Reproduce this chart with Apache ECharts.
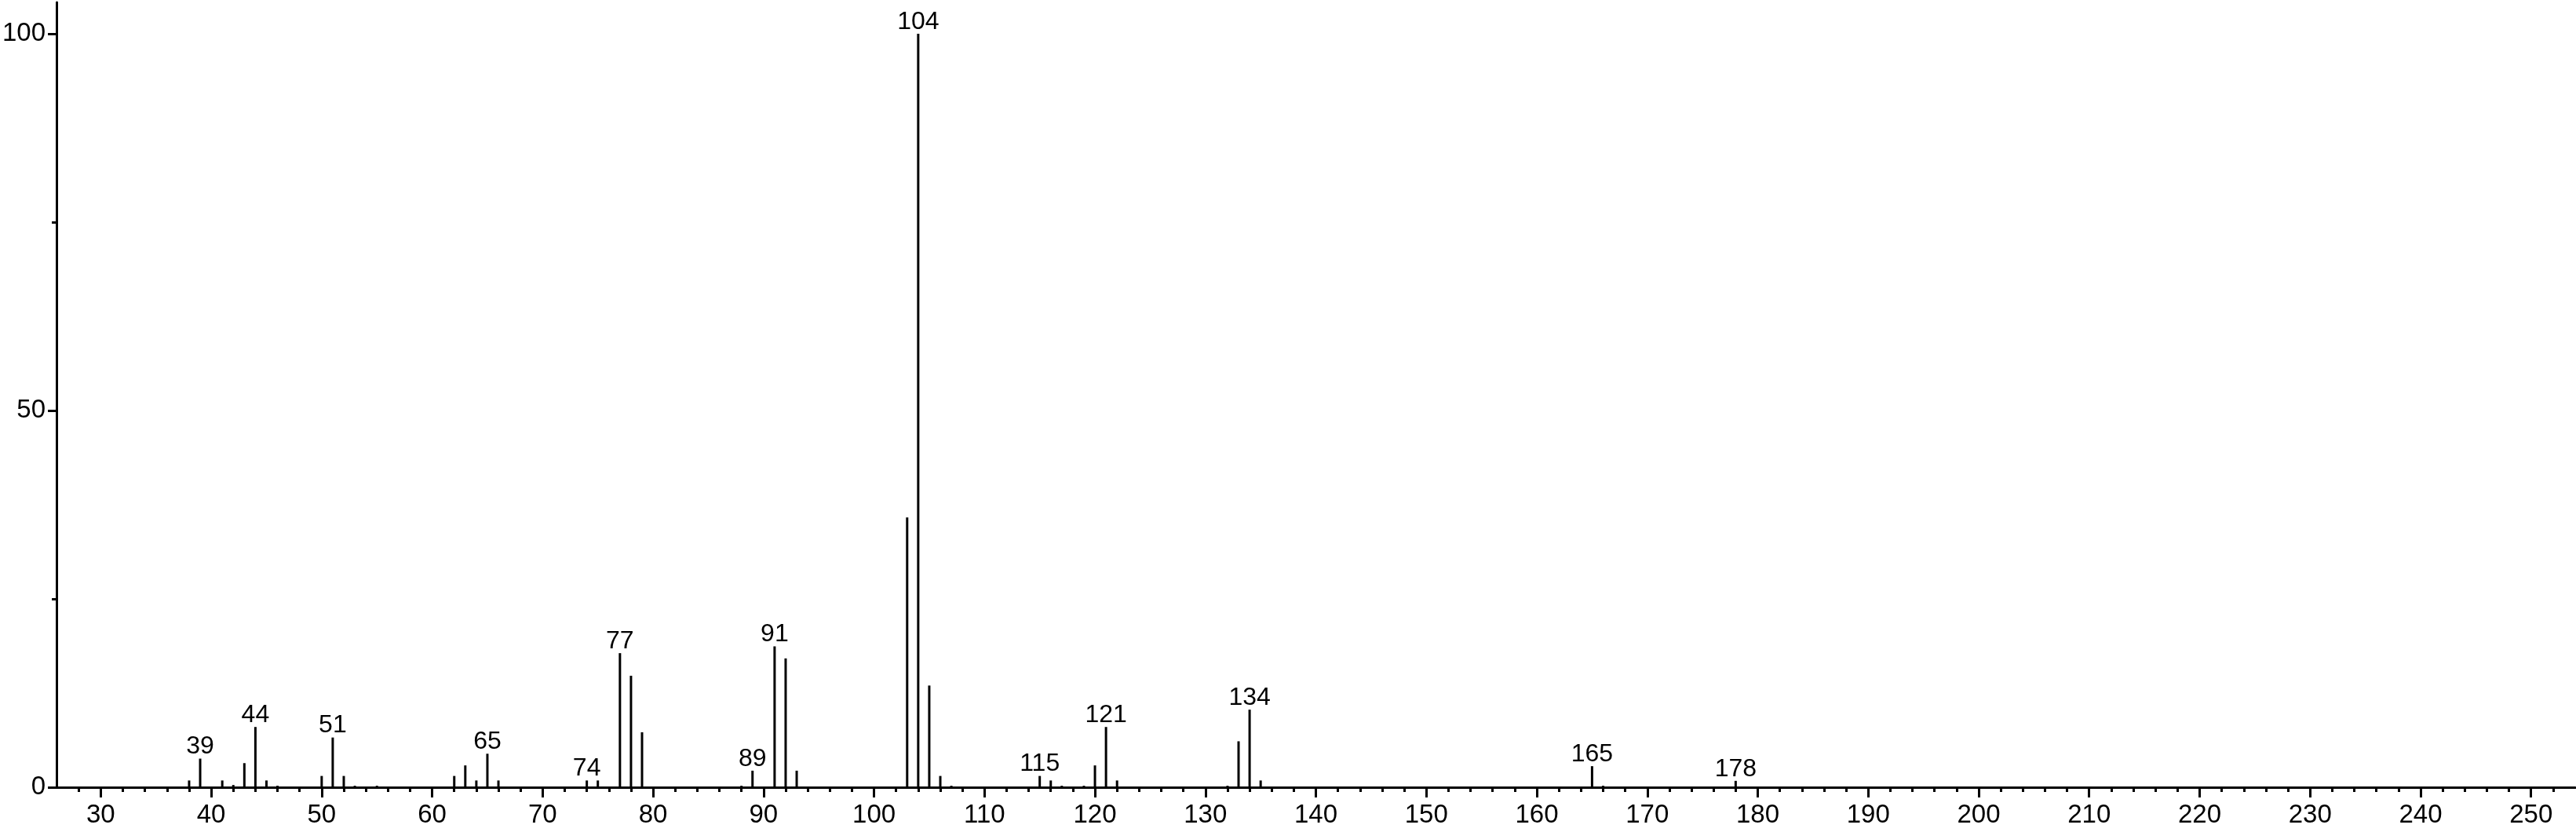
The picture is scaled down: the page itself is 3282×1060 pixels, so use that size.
<!DOCTYPE html>
<html>
<head>
<meta charset="utf-8">
<script src="https://cdn.jsdelivr.net/npm/echarts@6/dist/echarts.min.js"></script>
<style>
html,body{margin:0;padding:0;background:#fff;}
#chart{width:3282px;height:1060px;}
</style>
</head>
<body>
<div id="chart"></div>
<script>
// m/z values of the peaks
var mzValues = [38, 39, 41, 42, 43, 44, 45, 46, 50, 51, 52, 53, 55,
  62, 63, 64, 65, 66, 74, 75, 77, 78, 79, 88, 89, 91, 92, 93,
  103, 104, 105, 106, 107, 115, 116, 117, 119, 120, 121, 122,
  132, 133, 134, 135, 165, 166, 178];
// relative intensities (%)
var intensities = [0.9, 3.8, 0.9, 0.3, 3.2, 8.0, 0.9, 0.2, 1.5, 6.6, 1.5, 0.2, 0.2,
  1.5, 2.9, 0.9, 4.45, 0.9, 0.9, 0.9, 17.8, 14.8, 7.3, 0.2, 2.2, 18.7, 17.1, 2.2,
  35.8, 100, 13.5, 1.5, 0.2, 1.5, 0.9, 0.2, 0.2, 2.9, 8.0, 0.9,
  0.2, 6.1, 10.3, 0.9, 2.8, 0.2, 0.85];
// peaks that carry a label
var labeledPeaks = [39, 44, 51, 65, 74, 77, 89, 91, 104, 115, 121, 134, 165, 178];
// axis ticks
var xMajorTicks = [30, 40, 50, 60, 70, 80, 90, 100, 110, 120, 130, 140, 150, 160,
  170, 180, 190, 200, 210, 220, 230, 240, 250];
var yMajorTicks = [0, 50, 100];
var yMinorTicks = [25, 75];

var xMinorTicks = [];
for (var t = 28; t <= 252; t += 2) { if (t % 10 !== 0) xMinorTicks.push(t); }

var FONT = 'Liberation Sans, Arial, sans-serif';
var seriesData = mzValues.map(function (mz, i) {
  var item = { value: [mz, intensities[i]] };
  if (labeledPeaks.indexOf(mz) >= 0) {
    item.label = { show: true };
  }
  return item;
});

var chart = echarts.init(document.getElementById('chart'), null, { renderer: 'canvas' });
chart.setOption({
  animation: false,
  backgroundColor: '#ffffff',
  grid: { left: 69, right: 1, top: 3, bottom: 57, containLabel: false },
  xAxis: [{
    type: 'value', min: 26, max: 254, position: 'bottom',
    splitLine: { show: false },
    axisLine: { show: true, onZero: false, lineStyle: { color: '#000', width: 3 } },
    axisTick: { show: true, customValues: xMajorTicks, length: 13, lineStyle: { color: '#000', width: 3 } },
    axisLabel: { show: true, customValues: xMajorTicks, color: '#000', fontSize: 33, fontFamily: FONT, margin: 19 }
  }, {
    type: 'value', min: 26, max: 254, position: 'bottom',
    splitLine: { show: false },
    axisLine: { show: false, onZero: false },
    axisTick: { show: true, customValues: xMinorTicks, length: 6, lineStyle: { color: '#000', width: 3 } },
    axisLabel: { show: false }
  }],
  yAxis: [{
    type: 'value', min: 0, max: 104.17, position: 'left',
    splitLine: { show: false },
    axisLine: { show: true, onZero: false, lineStyle: { color: '#000', width: 3 } },
    axisTick: { show: true, customValues: yMajorTicks, length: 11, lineStyle: { color: '#000', width: 3 } },
    axisLabel: { show: true, customValues: yMajorTicks, color: '#000', fontSize: 33, fontFamily: FONT, margin: 14 }
  }, {
    type: 'value', min: 0, max: 104.17, position: 'left',
    splitLine: { show: false },
    axisLine: { show: false, onZero: false },
    axisTick: { show: true, customValues: yMinorTicks, length: 6, lineStyle: { color: '#000', width: 3 } },
    axisLabel: { show: false }
  }],
  series: [{
    type: 'bar',
    xAxisIndex: 0, yAxisIndex: 0,
    barWidth: 3,
    itemStyle: { color: '#000' },
    label: {
      show: false, position: 'top', distance: -1,
      color: '#000', fontSize: 32, fontFamily: FONT,
      formatter: function (p) { return String(p.value[0]); }
    },
    data: seriesData
  }]
});
</script>
</body>
</html>
